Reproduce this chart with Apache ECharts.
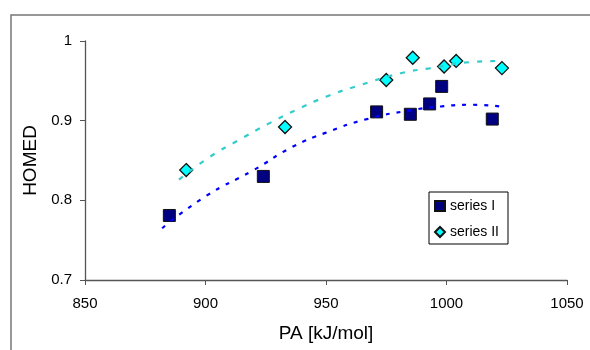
<!DOCTYPE html>
<html>
<head>
<meta charset="utf-8">
<script src="https://cdn.jsdelivr.net/npm/echarts@6/dist/echarts.min.js"></script>
<style>
  html, body { margin: 0; padding: 0; background: #fff; }
  #chart { width: 590px; height: 350px; }
</style>
</head>
<body>
<div id="chart"></div>
<script>
// measured points, PA [kJ/mol] vs HOMED
var seriesIx = [885, 924, 971, 985, 993, 998, 1019];
var seriesIy = [0.781, 0.830, 0.911, 0.908, 0.921, 0.943, 0.902];
var seriesIIx = [892, 933, 975, 986, 999, 1004, 1023];
var seriesIIy = [0.838, 0.892, 0.951, 0.979, 0.968, 0.975, 0.966];

// trendlines
var trendIx = [882, 900, 920, 936, 950, 967, 985, 998, 1010, 1022];
var trendIy = [0.765, 0.805, 0.838, 0.867, 0.885, 0.902, 0.913, 0.918, 0.920, 0.918];
var trendIIx = [889, 902, 914, 926, 938, 950, 963, 981, 993, 1011, 1023];
var trendIIy = [0.826, 0.855, 0.876, 0.896, 0.914, 0.930, 0.9435, 0.9595, 0.9657, 0.9737, 0.975];

var xTicks = [850, 900, 950, 1000, 1050];
var yTicks = [0.7, 0.8, 0.9, 1];

function pairs(xs, ys) {
  var out = [];
  for (var i = 0; i < xs.length; ++i) {
    out.push([xs[i], ys[i]]);
  }
  return out;
}

var font = 'Liberation Sans, Arial, sans-serif';
var axisColor = '#555';

var chart = echarts.init(document.getElementById('chart'), null, { renderer: 'canvas' });

var option = {
  animation: false,
  backgroundColor: '#fff',
  textStyle: { fontFamily: font },
  grid: { left: 85, right: 23, top: 41, bottom: 70, containLabel: false },
  graphic: [{
    type: 'rect',
    shape: { x: 11, y: 15, width: 600, height: 360 },
    style: { fill: 'none', stroke: '#777', lineWidth: 1.5 },
    silent: true,
    z: -10
  }],
  legend: {
    orient: 'vertical',
    left: 429,
    top: 192,
    padding: [6, 9, 4, 5],
    itemGap: 10,
    itemWidth: 10,
    itemHeight: 10,
    backgroundColor: '#fff',
    borderColor: '#000',
    borderWidth: 1,
    borderRadius: 0,
    textStyle: { fontFamily: font, fontSize: 14, color: '#000', lineHeight: 16 },
    data: ['series I', 'series II']
  },
  xAxis: {
    type: 'value',
    min: xTicks[0],
    max: xTicks[xTicks.length - 1],
    interval: 50,
    name: 'PA [kJ/mol]',
    nameLocation: 'middle',
    nameGap: 44,
    nameTextStyle: { fontFamily: font, fontSize: 19, color: '#000' },
    axisLine: { show: true, lineStyle: { color: axisColor, width: 1.3 } },
    axisTick: { show: true, inside: false, length: 5, lineStyle: { color: axisColor } },
    axisLabel: {
      fontFamily: font, fontSize: 15, color: '#000', margin: 16,
      formatter: function (v) { return String(v); }
    },
    splitLine: { show: false }
  },
  yAxis: {
    type: 'value',
    min: yTicks[0],
    max: yTicks[yTicks.length - 1],
    interval: 0.1,
    name: 'HOMED',
    nameLocation: 'middle',
    nameGap: 44,
    nameTextStyle: { fontFamily: font, fontSize: 19, color: '#000' },
    axisLine: { show: true, lineStyle: { color: axisColor, width: 1.3 } },
    axisTick: { show: true, inside: false, length: 5, lineStyle: { color: axisColor } },
    axisLabel: {
      fontFamily: font, fontSize: 15, color: '#000', margin: 13,
      formatter: function (v) { return String(Math.round(v * 10) / 10); }
    },
    splitLine: { show: false }
  },
  series: [
    {
      name: 'series I',
      type: 'scatter',
      symbol: 'rect',
      symbolSize: 12,
      itemStyle: { color: '#000080', borderColor: '#111', borderWidth: 1, opacity: 1 },
      data: pairs(seriesIx, seriesIy),
      z: 2
    },
    {
      name: 'series II',
      type: 'scatter',
      symbol: 'diamond',
      symbolSize: 13,
      itemStyle: { color: '#00FFFF', borderColor: '#111', borderWidth: 1.3, opacity: 1 },
      data: pairs(seriesIIx, seriesIIy),
      z: 2
    },
    {
      name: 'trend I',
      type: 'line',
      smooth: true,
      showSymbol: false,
      lineStyle: { color: '#0000FF', width: 2.2, type: [4, 7] },
      data: pairs(trendIx, trendIy),
      z: 3
    },
    {
      name: 'trend II',
      type: 'line',
      smooth: true,
      showSymbol: false,
      lineStyle: { color: '#33CCCC', width: 2.2, type: [5, 8] },
      data: pairs(trendIIx, trendIIy),
      z: 3
    }
  ]
};

chart.setOption(option);
</script>
</body>
</html>
